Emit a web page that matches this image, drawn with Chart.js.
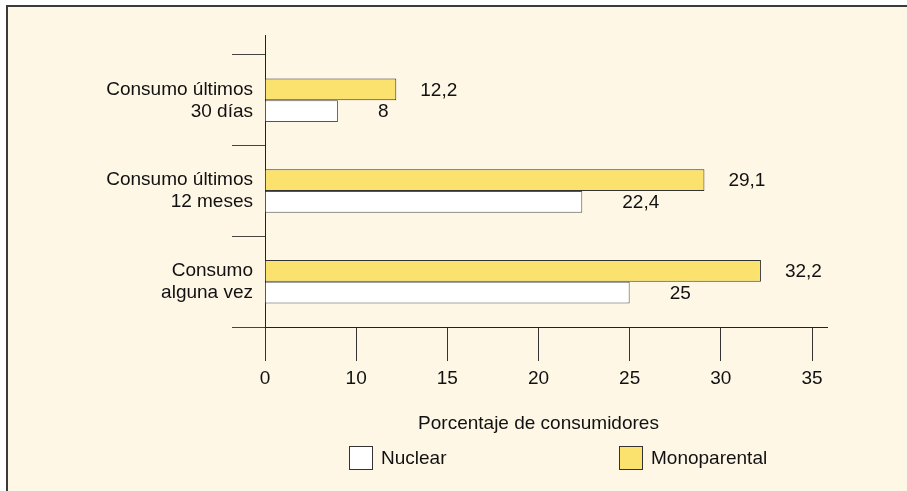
<!DOCTYPE html>
<html>
<head>
<meta charset="utf-8">
<script src="https://cdn.jsdelivr.net/npm/chart.js@4/dist/chart.umd.min.js"></script>
<style>
  html, body { margin: 0; padding: 0; background: #fff; }
  #panel {
    position: absolute; left: 6px; top: 5px; width: 920px; height: 500px;
    background: #fef7e6; border-top: 2px solid #3a3a3a; border-left: 2px solid #3a3a3a;
  }
  #wrap { position: absolute; left: 0; top: 0; width: 907px; height: 491px; }
</style>
</head>
<body>
<div id="panel"></div>
<div id="wrap"><canvas id="chart"></canvas></div>
<script>
// categories (two text lines each)
const categories = [
  ["Consumo últimos", "30 días"],
  ["Consumo últimos", "12 meses"],
  ["Consumo", "alguna vez"]
];
const monoparental = [12.2, 29.1, 32.2];
const nuclear = [8, 22.4, 25];
// the axis in the picture has these labels evenly spaced
const xTicks = [0, 10, 15, 20, 25, 30, 35];

const ink = "#111";
const family = "'Liberation Sans', Arial, sans-serif";
const fontSize = 19;
Chart.defaults.font.family = family;
Chart.defaults.font.size = fontSize;
Chart.defaults.color = ink;

// linear-like scale whose ticks are equally spaced, values interpolated between them
class StepScale extends Chart.LinearScale {
  static id = "step";
  determineDataLimits() {
    this.min = xTicks[0];
    this.max = xTicks[xTicks.length - 1];
  }
  buildTicks() {
    return xTicks.map((v) => ({ value: v }));
  }
  getPixelForValue(value) {
    if (value === null || value === undefined) return NaN;
    let i = 0;
    while (i < xTicks.length - 2 && value > xTicks[i + 1]) i++;
    const u = i + (value - xTicks[i]) / (xTicks[i + 1] - xTicks[i]);
    return this.getPixelForDecimal(u / (xTicks.length - 1));
  }
  getValueForPixel(pixel) {
    const u = this.getDecimalForPixel(pixel) * (xTicks.length - 1);
    const i = Math.min(Math.floor(u), xTicks.length - 2);
    return xTicks[i] + (u - i) * (xTicks[i + 1] - xTicks[i]);
  }
}
Chart.register(StepScale);

const valueLabels = {
  id: "valueLabels",
  afterDatasetsDraw(chart) {
    const { ctx } = chart;
    const offsets = [24, 40];
    ctx.save();
    ctx.font = fontSize + "px " + family;
    ctx.fillStyle = ink;
    ctx.textAlign = "left";
    ctx.textBaseline = "middle";
    chart.data.datasets.forEach((ds, di) => {
      chart.getDatasetMeta(di).data.forEach((bar, i) => {
        ctx.fillText(String(ds.data[i]).replace(".", ","), bar.x + offsets[di], bar.y + 1);
      });
    });
    ctx.restore();
  }
};

const axisExtras = {
  id: "axisExtras",
  afterDraw(chart) {
    const { ctx, chartArea: a } = chart;
    ctx.save();
    ctx.strokeStyle = "#222";
    ctx.lineWidth = 1;
    ctx.beginPath();
    ctx.moveTo(Math.round(a.left) + 0.5, a.top - 20);
    ctx.lineTo(Math.round(a.left) + 0.5, a.top);
    ctx.moveTo(a.right, Math.round(a.bottom) + 0.5);
    ctx.lineTo(a.right + 16, Math.round(a.bottom) + 0.5);
    ctx.stroke();

    // legend: Nuclear first, then Monoparental
    const items = [1, 0];
    const xs = [349, 619];
    ctx.font = fontSize + "px " + family;
    ctx.textAlign = "left";
    ctx.textBaseline = "middle";
    items.forEach((di, k) => {
      const ds = chart.data.datasets[di];
      ctx.fillStyle = ds.backgroundColor;
      ctx.fillRect(xs[k] + 0.5, 446.5, 23, 23);
      ctx.strokeStyle = "#333";
      ctx.strokeRect(xs[k] + 0.5, 446.5, 23, 23);
      ctx.fillStyle = ink;
      ctx.fillText(ds.label, xs[k] + 32, 459);
    });
    ctx.restore();
  }
};

new Chart(document.getElementById("chart"), {
  type: "bar",
  data: {
    labels: categories,
    datasets: [
      { label: "Monoparental", data: monoparental, backgroundColor: "#fbe26e", borderColor: "#333", borderWidth: 1 },
      { label: "Nuclear", data: nuclear, backgroundColor: "#ffffff", borderColor: "#555", borderWidth: 1 }
    ]
  },
  options: {
    indexAxis: "y",
    responsive: true,
    maintainAspectRatio: false,
    animation: false,
    layout: { padding: { top: 55, right: 95, left: 0, bottom: 0 } },
    datasets: { bar: { categoryPercentage: 0.48, barPercentage: 1 } },
    plugins: { legend: { display: false }, tooltip: { enabled: false } },
    scales: {
      y: {
        type: "category",
        afterFit: (scale) => { scale.width = 265; },
        border: { display: true, color: "#222", width: 1 },
        grid: { drawOnChartArea: false, drawTicks: true, tickLength: 33, color: "#444", offset: true },
        ticks: { padding: -21, font: { size: fontSize, lineHeight: 1.16 }, color: ink }
      },
      x: {
        type: "step",
        afterFit: (scale) => { scale.height = 164; },
        border: { display: true, color: "#222", width: 1 },
        grid: { drawOnChartArea: false, drawTicks: true, tickLength: 34, color: "#333" },
        ticks: { padding: 6, color: ink, callback: (v) => String(v) },
        title: { display: true, text: "Porcentaje de consumidores", color: ink, font: { size: fontSize }, padding: { bottom: 56 } }
      }
    }
  },
  plugins: [valueLabels, axisExtras]
});
</script>
</body>
</html>
